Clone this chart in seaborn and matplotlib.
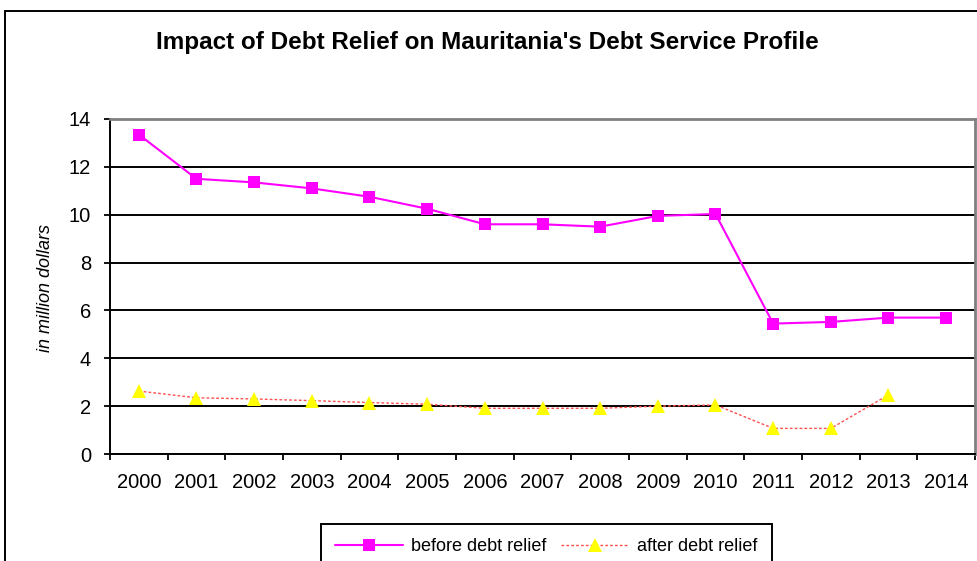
import numpy as np
import pandas as pd
import matplotlib
matplotlib.use("Agg")
import matplotlib.pyplot as plt
import seaborn as sns
from matplotlib.patches import Rectangle

# Données (millions de dollars)
years = [str(y) for y in range(2000, 2015)]
before_relief = [13.35, 11.5, 11.35, 11.1, 10.75, 10.25, 9.6, 9.6, 9.5, 9.95,
                 10.03, 5.45, 5.52, 5.7, 5.7]
after_relief = [2.63, 2.35, 2.3, 2.23, 2.15, 2.08, 1.91, 1.91, 1.91, 2.0,
                2.05, 1.07, 1.07, 2.47, np.nan]

sns.set_theme(style="white")
plt.rcParams["font.family"] = ["Liberation Sans", "DejaVu Sans"]
plt.rcParams["text.color"] = "black"

df = pd.DataFrame({"pos": range(len(years)), "year": years,
                   "before": before_relief, "after": after_relief})

W, H = 978, 561
fig = plt.figure(figsize=(W / 100, H / 100), dpi=100)
ax = fig.add_axes([110 / W, 1 - 454 / H, 865 / W, 335 / H])

sns.lineplot(data=df, x="pos", y="before", ax=ax, color="#FF00FF", lw=1.5,
             marker="s", markersize=8, markeredgewidth=0,
             label="before debt relief")
sns.lineplot(data=df, x="pos", y="after", ax=ax, color="#FF5050", lw=1,
             linestyle=(0, (2, 1.5)), marker="^", markersize=10.5,
             markerfacecolor="#FFFF00", markeredgewidth=0,
             label="after debt relief")

# axes
ax.set_xlim(-0.5, len(years) - 0.5)
ax.set_ylim(0, 14)
ax.set_yticks(range(0, 15, 2))
ax.set_xticks(range(len(years)))
ax.set_xticklabels(years)
ax.set_xticks(np.arange(-0.5, len(years), 1), minor=True)
ax.set_xlabel("")
ax.set_ylabel("")

ax.grid(axis="y", color="black", lw=1.4)
ax.set_axisbelow(True)
for side in ["left", "bottom"]:
    ax.spines[side].set_color("black")
    ax.spines[side].set_linewidth(1.4)
for side in ["top", "right"]:
    ax.spines[side].set_color("#808080")
    ax.spines[side].set_linewidth(2)

ax.tick_params(axis="x", which="major", bottom=True, length=0, pad=14,
               labelsize=14.5, colors="black")
ax.tick_params(axis="x", which="minor", bottom=True, length=4.5, width=1.3,
               color="black", direction="out")
ax.tick_params(axis="y", left=True, length=4.5, width=1.3, color="black",
               direction="out", pad=9, labelsize=14.5, labelcolor="black")

fig.text(46 / W, 1 - 288 / H, "in million dollars", rotation=90,
         ha="center", va="center", fontsize=13, style="italic", color="black")
fig.text(0.498, 1 - 43 / H,
         "Impact of Debt Relief on Mauritania's Debt Service Profile",
         ha="center", va="center", fontsize=17.5, fontweight="bold",
         color="black")

leg = ax.legend(loc="upper left", bbox_to_anchor=(321 / W, 1 - 524 / H),
                bbox_transform=fig.transFigure, ncol=2, fontsize=13,
                frameon=True, fancybox=False, edgecolor="black",
                framealpha=1, handlelength=3.75, handletextpad=0.45,
                columnspacing=0.8, borderpad=0.8, borderaxespad=0)
leg.get_frame().set_linewidth(1.4)
for t in leg.get_texts():
    t.set_color("black")

# cadre extérieur du graphique
fig.patches.append(Rectangle((5 / W, -0.2), 1.2, 1.2 - 11 / H,
                             transform=fig.transFigure, fill=False,
                             edgecolor="black", lw=1.4))

fig.savefig("out.png", dpi=100)
